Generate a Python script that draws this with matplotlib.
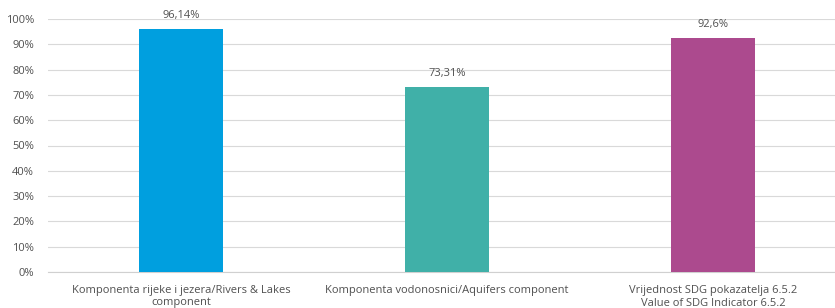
import matplotlib
matplotlib.use("Agg")
import matplotlib.pyplot as plt
from matplotlib.ticker import MultipleLocator, FuncFormatter

categories = ["Komponenta rijeke i jezera/Rivers & Lakes\ncomponent",
              "Komponenta vodonosnici/Aquifers component",
              "Vrijednost SDG pokazatelja 6.5.2\nValue of SDG Indicator 6.5.2"]
values = [96.14, 73.31, 92.6]
value_labels = ["96,14%", "73,31%", "92,6%"]
colors = ["#009FDF", "#40B0A8", "#AC4A8E"]

plt.rcParams['font.family'] = ['Open Sans', 'DejaVu Sans']
txt = "#505050"

fig = plt.figure(figsize=(8.35, 3.08), dpi=100)
ax = fig.add_axes([48/835, 1-272/308, 798/835, 253/308])
x = range(len(categories))
ax.bar(x, values, width=0.316, color=colors, zorder=3)
for xi, v, lab in zip(x, values, value_labels):
    ax.text(xi, v + 3.0, lab, ha='center', va='bottom', fontsize=8, color=txt)
ax.set_ylim(0, 100)
ax.set_xlim(-0.5, 2.5)
ax.yaxis.set_major_locator(MultipleLocator(10))
ax.yaxis.set_major_formatter(FuncFormatter(lambda v, p: f"{int(round(v))}%"))
ax.grid(axis='y', color='#D9D9D9', linewidth=0.8, zorder=0)
for s in ['top', 'right', 'left']:
    ax.spines[s].set_visible(False)
ax.spines['bottom'].set_color('#D0D0D0')
ax.spines['bottom'].set_linewidth(0.8)
ax.set_xticks(list(x))
ax.set_xticklabels(categories, fontsize=8, color=txt, linespacing=1.25)
ax.tick_params(axis='both', length=0, colors=txt, labelsize=8)
ax.tick_params(axis='x', pad=9)
ax.tick_params(axis='y', pad=10)
fig.savefig("out.png", dpi=100)
